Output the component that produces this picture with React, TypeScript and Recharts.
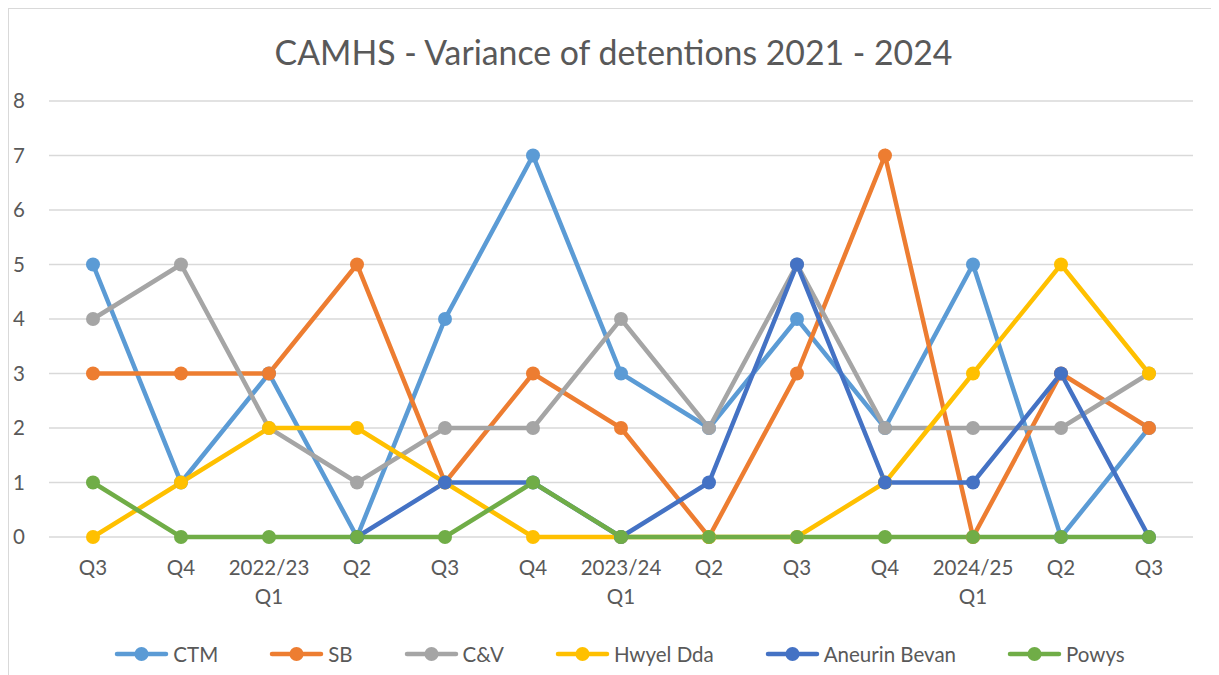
import React from 'react';
import { LineChart, Line, XAxis, YAxis, CartesianGrid, Legend } from 'recharts';

const quarters = [
  'Q3', 'Q4', '2022/23\nQ1', 'Q2', 'Q3', 'Q4', '2023/24\nQ1', 'Q2', 'Q3', 'Q4', '2024/25\nQ1', 'Q2', 'Q3',
];

const ctm = [5, 1, 3, 0, 4, 7, 3, 2, 4, 2, 5, 0, 2];
const sb = [3, 3, 3, 5, 1, 3, 2, 0, 3, 7, 0, 3, 2];
const cv = [4, 5, 2, 1, 2, 2, 4, 2, 5, 2, 2, 2, 3];
const hwyelDda = [0, 1, 2, 2, 1, 0, 0, 0, 0, 1, 3, 5, 3];
const aneurinBevan = [null, null, null, 0, 1, 1, 0, 1, 5, 1, 1, 3, 0];
const powys = [1, 0, 0, 0, 0, 1, 0, 0, 0, 0, 0, 0, 0];

const yTicks = [0, 1, 2, 3, 4, 5, 6, 7, 8];

const SERIES = [
  { key: 'CTM', values: ctm, color: '#5B9BD5' },
  { key: 'SB', values: sb, color: '#ED7D31' },
  { key: 'C&V', values: cv, color: '#A5A5A5' },
  { key: 'Hwyel Dda', values: hwyelDda, color: '#FFC000' },
  { key: 'Aneurin Bevan', values: aneurinBevan, color: '#4472C4' },
  { key: 'Powys', values: powys, color: '#70AD47' },
];

const data = quarters.map((q, i) => {
  const row: Record<string, string | number | null> = { quarter: q };
  for (const s of SERIES) row[s.key] = s.values[i];
  return row;
});

const FONT = 'Lato, "Open Sans", sans-serif';
const TEXT = '#595959';

function XTick({ x, y, payload }: any) {
  const lines = String(payload.value).split('\n');
  return (
    <text x={x} y={y} textAnchor="middle" fill={TEXT} fontSize={20.5} fontFamily={FONT}>
      {lines.map((l, i) => (
        <tspan key={i} x={x} dy={i === 0 ? 30 : 29}>{l}</tspan>
      ))}
    </text>
  );
}

function LegendContent() {
  return (
    <div style={{ display: 'flex', justifyContent: 'center', fontFamily: FONT, fontSize: 20.5, color: TEXT, paddingLeft: 12 }}>
      {SERIES.map((s, i) => (
        <div key={s.key} style={{ display: 'flex', alignItems: 'center', marginRight: i === SERIES.length - 1 ? 0 : 51 }}>
          <svg width={55} height={16} style={{ marginRight: 4 }}>
            <line x1={3} y1={8} x2={52} y2={8} stroke={s.color} strokeWidth={4.5} strokeLinecap="round" />
            <circle cx={27.5} cy={8} r={7} fill={s.color} />
          </svg>
          <span>{s.key}</span>
        </div>
      ))}
    </div>
  );
}

export default function App() {
  return (
    <div style={{ position: 'relative', width: 1211, height: 667, overflow: 'hidden' }}>
      <div style={{
        position: 'absolute', left: 0, top: 0, width: 1300, height: 800,
        borderTop: '1px solid #d9d9d9', borderLeft: '1px solid #d9d9d9',
      }} />
      <div style={{
        position: 'absolute', left: 0, top: 25, width: 1211, textAlign: 'center',
        fontFamily: FONT, fontSize: 33.8, color: TEXT, lineHeight: '38px',
      }}>
        CAMHS - Variance of detentions 2021 - 2024
      </div>
      <LineChart width={1211} height={667} data={data} margin={{ top: 93, right: 26, left: 0, bottom: 78 }}>
        <CartesianGrid vertical={false} stroke="#d9d9d9" strokeWidth={1.5} />
        <XAxis
          dataKey="quarter"
          axisLine={false}
          tickLine={false}
          interval={0}
          height={60}
          padding={{ left: 44, right: 44 }}
          tick={<XTick />}
        />
        <YAxis
          domain={[0, 8]}
          ticks={yTicks}
          width={41}
          axisLine={false}
          tickLine={false}
          tickMargin={18}
          tick={{ fill: TEXT, fontSize: 20.5, fontFamily: FONT }}
        />
        <Legend
          verticalAlign="middle"
          align="center"
          layout="horizontal"
          content={<LegendContent />}
          wrapperStyle={{ position: 'absolute', top: 634, left: 0, width: 1211 }}
        />
        {SERIES.map((s) => (
          <Line
            key={s.key}
            dataKey={s.key}
            type="linear"
            stroke={s.color}
            strokeWidth={4.5}
            dot={{ r: 7, fill: s.color, stroke: s.color, strokeWidth: 0 }}
            isAnimationActive={false}
          />
        ))}
      </LineChart>
    </div>
  );
}
